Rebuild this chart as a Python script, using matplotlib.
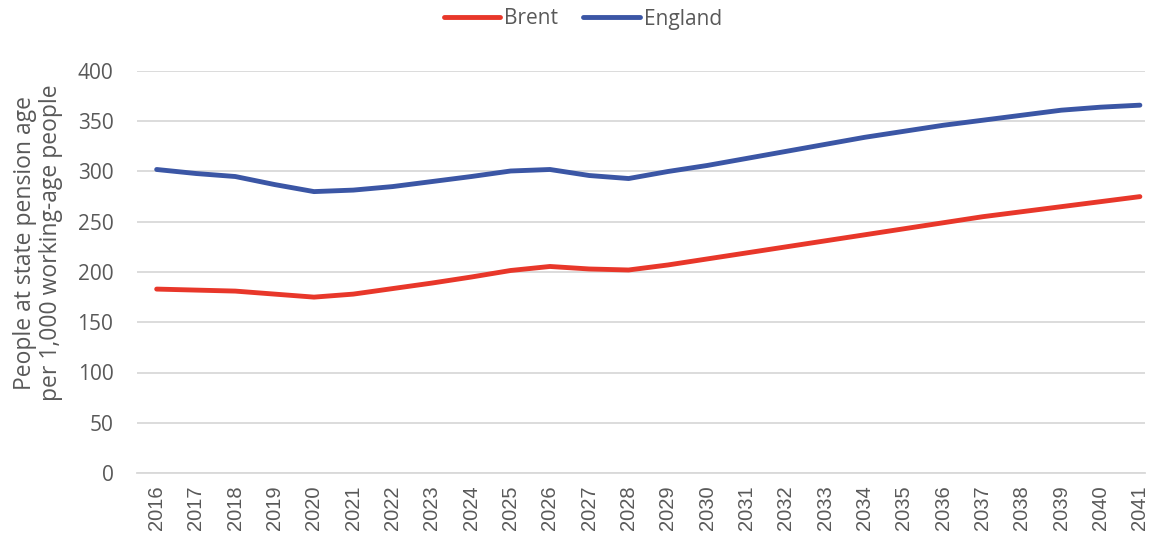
import matplotlib
matplotlib.use("Agg")
import matplotlib.pyplot as plt

years = list(range(2016, 2042))
brent = [183, 182, 181, 178, 175, 178, 183.5, 189, 195, 201.5, 205.5, 203, 202,
         207, 213, 219, 225, 231, 237, 243, 249, 255, 260, 265, 270, 275]
england = [302, 298, 295, 287, 280, 281.5, 285, 290, 295, 300.5, 302, 296, 293,
           300, 306, 313, 320, 327, 334, 340, 346, 351, 356, 361, 364, 366]
yticks = [0, 50, 100, 150, 200, 250, 300, 350, 400]

plt.rcParams['font.family'] = ['Open Sans', 'DejaVu Sans']
txt = '#595959'

fig = plt.figure(figsize=(11.5, 5.4), dpi=100)
ax = fig.add_axes([137/1150, 1 - 473/540, (1145-137)/1150, (473-71)/540])

ax.plot(years, brent, color='#E8372A', lw=3.5, label='Brent', solid_capstyle='round')
ax.plot(years, england, color='#3B56A5', lw=3.5, label='England', solid_capstyle='round')

ax.set_ylim(0, 400)
ax.set_xlim(2015.5, 2041.13)
ax.set_yticks(yticks)
ax.set_xticks(years)
ax.set_xticklabels([str(y) for y in years], rotation=90, fontfamily=['Liberation Sans', 'DejaVu Sans'])
ax.tick_params(axis='y', length=0, colors=txt, labelsize=15, pad=17)
ax.tick_params(axis='x', length=0, colors=txt, labelsize=14.5, pad=9)
ax.grid(axis='y', color='#d9d9d9', lw=1.3)
ax.set_axisbelow(True)
for s in ['top', 'right', 'left']:
    ax.spines[s].set_visible(False)
ax.spines['bottom'].set_color('#d9d9d9')
ax.spines['bottom'].set_linewidth(1.3)

ax.set_ylabel('People at state pension age\nper 1,000 working-age people', color=txt,
              fontsize=16.5, linespacing=1.1)
ax.yaxis.set_label_coords(-74/1008, 0.572)

fig.legend(loc='center', bbox_to_anchor=(0.507, 1 - 19/540), ncol=2, frameon=False,
           fontsize=15, labelcolor=txt, handlelength=2.7, handletextpad=0.2, columnspacing=1.2,
           borderpad=0)

fig.savefig('out.png', dpi=100)
